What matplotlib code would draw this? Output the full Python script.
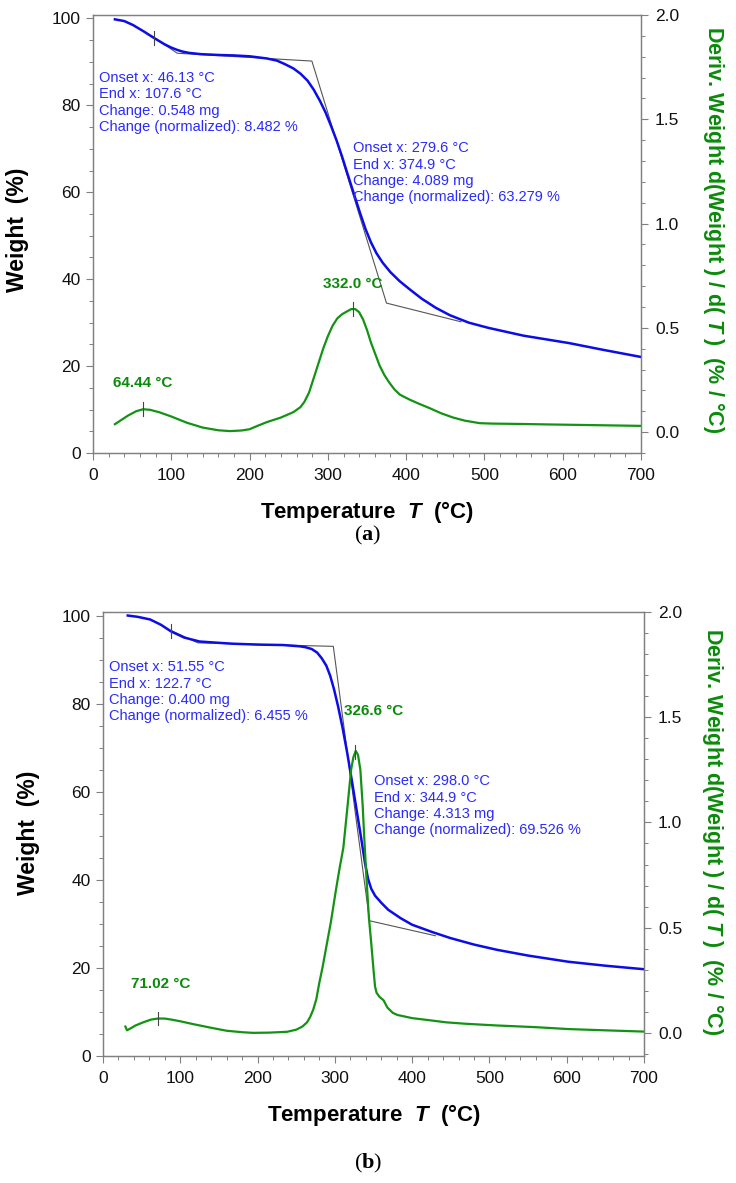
import numpy as np
import matplotlib
matplotlib.use("Agg")
import matplotlib.pyplot as plt
from matplotlib.ticker import MultipleLocator

plt.rcParams["font.family"] = ["Liberation Sans", "DejaVu Sans"]
plt.rcParams["mathtext.fontset"] = "custom"
plt.rcParams["mathtext.rm"] = "Liberation Sans"
plt.rcParams["mathtext.it"] = "Liberation Sans:italic:bold"
plt.rcParams["mathtext.bf"] = "Liberation Serif:bold"

# ==========================
# Data (a)
# ==========================

a_T_w = [28, 40, 51, 65, 78, 92, 100, 107, 114, 122, 137, 160, 179, 200, 222, 235,
         245, 256, 265, 274, 282, 290, 297, 304, 311, 318, 325, 333, 341, 348, 355,
         362, 370, 380, 392, 405, 420, 438, 456, 480, 505, 550, 608, 650, 700]
a_weight = [99.8, 99.4, 98.5, 97.0, 95.5, 94.0, 93.3, 92.8, 92.4, 92.1, 91.8, 91.6,
            91.5, 91.3, 90.8, 90.3, 89.5, 88.5, 87.3, 85.7, 83.6, 81.0, 78.4, 75.3,
            72.0, 68.3, 64.3, 59.8, 55.3, 51.6, 48.5, 46.0, 43.8, 41.6, 39.5, 37.6,
            35.5, 33.4, 31.7, 30.0, 28.8, 27.0, 25.3, 23.8, 22.1]

a_T_d = [28, 36, 45, 55, 64, 73, 85, 100, 120, 140, 160, 175, 190, 200, 210, 222,
         240, 256, 265, 270, 276, 282, 288, 294, 300, 306, 312, 318, 324, 330, 335,
         340, 345, 350, 355, 360, 366, 372, 378, 385, 392, 397, 405, 414, 430, 445,
         460, 475, 494, 510, 550, 580, 650, 700]
a_deriv = [0.038, 0.058, 0.08, 0.10, 0.11, 0.107, 0.095, 0.075, 0.045, 0.022, 0.009,
           0.005, 0.008, 0.014, 0.03, 0.048, 0.07, 0.096, 0.12, 0.145, 0.19, 0.26,
           0.33, 0.40, 0.46, 0.51, 0.545, 0.565, 0.578, 0.59, 0.59, 0.575, 0.54, 0.49,
           0.43, 0.38, 0.32, 0.275, 0.24, 0.205, 0.18, 0.17, 0.155, 0.14, 0.115, 0.09,
           0.07, 0.055, 0.043, 0.041, 0.039, 0.037, 0.033, 0.030]

a_tangent_T = [75, 107.6, 279.6, 374.9, 470]
a_tangent_w = [96.0, 92.0, 90.2, 34.5, 30.2]

a_peaks = [64.44, 332.0]
a_peak_labels = ["64.44 °C", "332.0 °C"]
a_steps = [
    "Onset x: 46.13 °C\nEnd x: 107.6 °C\nChange: 0.548 mg\nChange (normalized): 8.482 %",
    "Onset x: 279.6 °C\nEnd x: 374.9 °C\nChange: 4.089 mg\nChange (normalized): 63.279 %",
]

# ==========================
# Data (b)
# ==========================

b_T_w = [32, 45, 61, 75, 88, 105, 125, 150, 168, 200, 233, 255, 262, 270, 277, 283,
         289, 294, 299, 304, 310, 316, 322, 328, 334, 339, 343, 347, 352, 360, 369,
         385, 400, 425, 449, 480, 510, 550, 602, 650, 700]
b_weight = [100.0, 99.7, 99.1, 97.9, 96.4, 95.0, 94.1, 93.8, 93.6, 93.4, 93.3, 93.0,
            92.8, 92.4, 91.6, 90.3, 88.6, 86.3, 83.2, 79.5, 74.5, 68.8, 62.5, 56.0,
            49.5, 43.8, 40.2, 38.0, 36.4, 34.8, 33.2, 31.3, 29.8, 28.2, 26.8, 25.3,
            24.1, 22.8, 21.4, 20.5, 19.7]

b_T_d = [29, 31, 36, 42, 52, 62, 71, 80, 90, 100, 116, 140, 160, 180, 194, 215, 238,
         250, 258, 264, 268, 272, 276, 280, 284, 289, 295, 301, 306, 311, 317, 321,
         324, 327, 330, 333, 336, 338, 341, 344, 347, 350, 352, 354, 358, 363, 368,
         375, 381, 400, 418, 444, 470, 510, 560, 602, 650, 700]
b_deriv = [0.03, 0.012, 0.022, 0.035, 0.05, 0.063, 0.068, 0.068, 0.062, 0.055, 0.042,
           0.024, 0.01, 0.003, 0.0, 0.001, 0.005, 0.015, 0.03, 0.05, 0.075, 0.11, 0.16,
           0.24, 0.31, 0.41, 0.53, 0.67, 0.78, 0.88, 1.10, 1.25, 1.31, 1.34, 1.32,
           1.25, 1.08, 0.93, 0.73, 0.55, 0.43, 0.30, 0.22, 0.19, 0.17, 0.155, 0.12,
           0.095, 0.085, 0.07, 0.062, 0.05, 0.043, 0.035, 0.027, 0.018, 0.012, 0.006]

b_tangent_T = [88, 122.7, 298.0, 344.9, 430]
b_tangent_w = [96.6, 93.8, 93.0, 30.7, 27.3]

b_peaks = [71.02, 326.6]
b_peak_labels = ["71.02 °C", "326.6 °C"]
b_steps = [
    "Onset x: 51.55 °C\nEnd x: 122.7 °C\nChange: 0.400 mg\nChange (normalized): 6.455 %",
    "Onset x: 298.0 °C\nEnd x: 344.9 °C\nChange: 4.313 mg\nChange (normalized): 69.526 %",
]

# ==========================
# Styles
# ==========================

W, H = 736, 1183
BLUE = "#0c0ce8"
BLUE_TXT = "#2a2aff"
GREEN = "#139313"
GREEN_TXT = "#0b8a0b"
GRAY = "#808080"
DERIV_LABEL = "Deriv. Weight d(Weight ) / d( $\\mathit{T}$ )  (% / °C)"
TEMP_LABEL = "Temperature  $\\mathit{T}$  (°C)"


def fx(px):
    return px / W


def fy(py):
    return 1 - py / H


def style_axis(ax):
    for s in ax.spines.values():
        s.set_color(GRAY)
        s.set_linewidth(0.9)
    ax.tick_params(which="both", direction="out", color=GRAY, labelsize=12.5,
                   labelcolor="#111111")
    ax.tick_params(which="major", length=5, width=0.8, pad=4)
    ax.tick_params(which="minor", length=3, width=0.7)


def panel(rect, T_w, weight, T_d, deriv, tan_T, tan_w, mark_T, peaks, peak_labels,
          peak_pos, steps, step_pos, d_ylim):
    ax = fig.add_axes(rect)
    ax2 = ax.twinx()

    ax.plot(tan_T, tan_w, color="#555555", lw=0.8, zorder=2)
    ax.plot(T_w, weight, color=BLUE, lw=1.8, zorder=3)
    wm = np.interp(mark_T, T_w, weight)
    ax.plot([mark_T, mark_T], [wm - 1.6, wm + 1.6], color="#444444", lw=0.8, zorder=4)

    for txt, (tx, ty) in zip(steps, step_pos):
        ax.text(tx, ty, txt, color=BLUE_TXT, fontsize=10.5, ha="left", va="center",
                linespacing=1.22)

    ax2.plot(T_d, deriv, color=GREEN, lw=1.6)
    for p, lab, (tx, ty) in zip(peaks, peak_labels, peak_pos):
        dp = np.interp(p, T_d, deriv)
        ax2.plot([p, p], [dp - 0.033, dp + 0.033], color="#444444", lw=0.8)
        ax2.text(tx, ty, lab, color=GREEN_TXT, fontsize=11, fontweight="bold",
                 ha="center", va="center")

    ax.set_xlim(0, 700)
    ax.set_ylim(0, 100.8)
    ax2.set_ylim(*d_ylim)
    ax.xaxis.set_major_locator(MultipleLocator(100))
    ax.xaxis.set_minor_locator(MultipleLocator(20))
    ax.yaxis.set_major_locator(MultipleLocator(20))
    ax.yaxis.set_minor_locator(MultipleLocator(5))
    ax2.yaxis.set_major_locator(MultipleLocator(0.5))
    ax2.yaxis.set_minor_locator(MultipleLocator(0.1))
    ax2.yaxis.set_major_formatter(lambda v, pos: f"{v:.1f}")
    style_axis(ax)
    style_axis(ax2)
    ax.tick_params(axis="x", pad=6)
    ax2.tick_params(axis="y", pad=5)
    return ax, ax2


fig = plt.figure(figsize=(W / 100, H / 100), dpi=100)

# ==========================
# Panel (a)
# ==========================

panel([fx(93), fy(453), 548 / W, 438 / H], a_T_w, a_weight, a_T_d, a_deriv,
      a_tangent_T, a_tangent_w, 78, a_peaks, a_peak_labels,
      [(64, 0.235), (332, 0.71)], a_steps, [(7.7, 80.7), (332, 64.5)], (-0.1, 2.0))

fig.text(fx(18), fy(230), "Weight  (%)", rotation=90, fontsize=16.5, fontweight="bold",
         ha="center", va="center")
fig.text(fx(714), fy(230), DERIV_LABEL, rotation=-90, fontsize=15.5, fontweight="bold",
         color=GREEN_TXT, ha="center", va="center")
fig.text(fx(367), fy(512), TEMP_LABEL, fontsize=16, fontweight="bold",
         ha="center", va="center")
fig.text(fx(368), fy(535), "($\\mathbf{a}$)", fontsize=16, family="Liberation Serif",
         ha="center", va="center")

# ==========================
# Panel (b)
# ==========================

panel([fx(103), fy(1056), 541 / W, 444 / H], b_T_w, b_weight, b_T_d, b_deriv,
      b_tangent_T, b_tangent_w, 88, b_peaks, b_peak_labels,
      [(75, 0.233), (350, 1.53)], b_steps, [(7.8, 82.7), (350, 56.8)], (-0.11, 2.0))

fig.text(fx(28), fy(833), "Weight  (%)", rotation=90, fontsize=16.5, fontweight="bold",
         ha="center", va="center")
fig.text(fx(713), fy(832), DERIV_LABEL, rotation=-90, fontsize=15.5, fontweight="bold",
         color=GREEN_TXT, ha="center", va="center")
fig.text(fx(374), fy(1115), TEMP_LABEL, fontsize=16, fontweight="bold",
         ha="center", va="center")
fig.text(fx(368), fy(1163), "($\\mathbf{b}$)", fontsize=16, family="Liberation Serif",
         ha="center", va="center")

fig.savefig("out.png", dpi=100)
